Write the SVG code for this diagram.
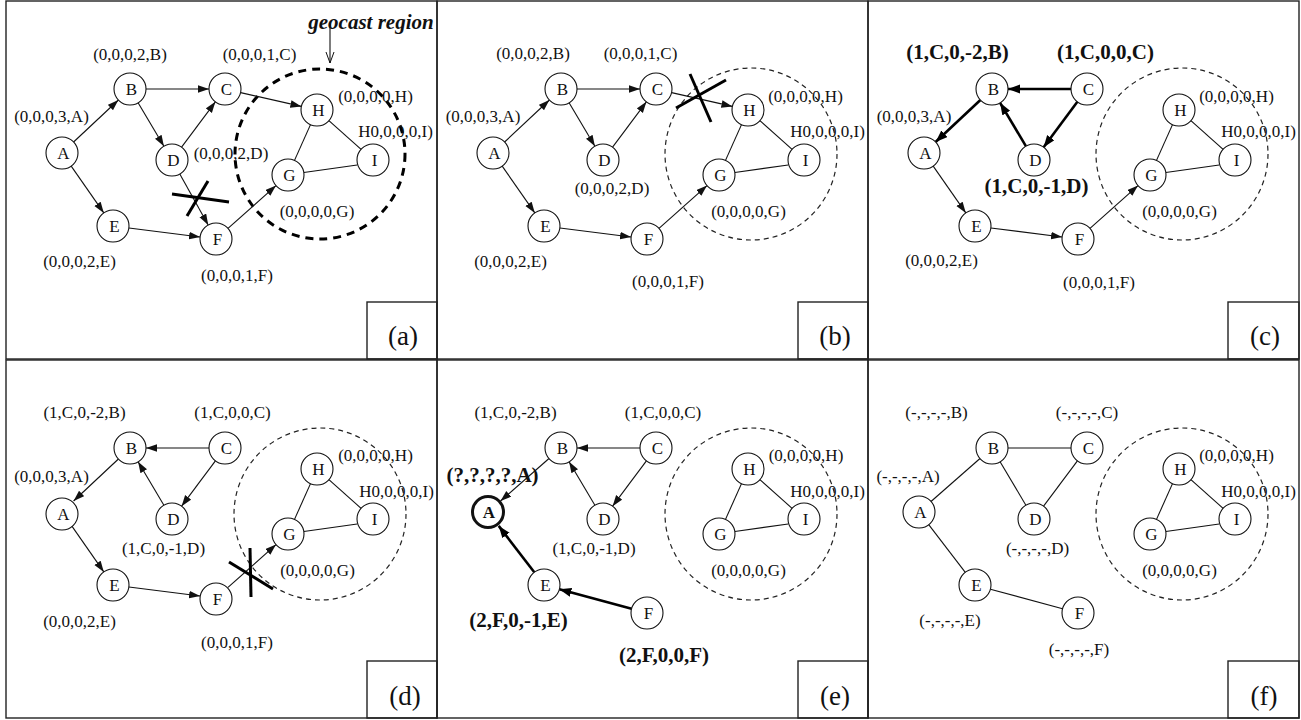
<svg xmlns="http://www.w3.org/2000/svg" width="1301" height="720" viewBox="0 0 1301 720">
<style>
.bg{fill:#fff}
.frame{fill:none;stroke:#222;stroke-width:1.4}
.n circle{fill:#fff;stroke:#111;stroke-width:1.1}
.n text,.lbl{font-family:"Liberation Serif","Times New Roman",serif;font-size:17px;fill:#111;text-anchor:middle}
.bold{font-weight:bold;font-size:21px}
.plabel{font-family:"Liberation Serif","Times New Roman",serif;font-size:27px;fill:#111;text-anchor:middle}
.e{stroke:#111;stroke-width:1.1;fill:none}
.ea{stroke:#111;stroke-width:1.1;fill:none;marker-end:url(#ar)}
.et{stroke:#000;stroke-width:2.6;fill:none;marker-end:url(#arT)}
.x{stroke:#000;stroke-width:3;fill:none}
.geo{fill:none;stroke:#222;stroke-width:1.2;stroke-dasharray:5 4}
.geoT{fill:none;stroke:#000;stroke-width:3;stroke-dasharray:8 6}
</style>
<defs>
<marker id="ar" markerUnits="userSpaceOnUse" markerWidth="12" markerHeight="9" refX="11" refY="3.8" orient="auto"><path d="M0,0 L11,3.8 L0,7.6 z" fill="#111"/></marker>
<marker id="arT" markerUnits="userSpaceOnUse" markerWidth="14" markerHeight="10" refX="12" refY="4.5" orient="auto"><path d="M0,0 L12,4.5 L0,9 z" fill="#000"/></marker>
<marker id="arO" markerUnits="userSpaceOnUse" markerWidth="14" markerHeight="12" refX="12" refY="5" orient="auto"><path d="M1,1 L12,5 L1,9" fill="none" stroke="#111" stroke-width="1"/></marker>
</defs>
<rect class="bg" x="0" y="0" width="1301" height="720"/>

<!-- ===== Panel (a) ===== -->
<g id="panel-a">
<rect class="frame" x="6" y="1" width="431" height="358"/>
<rect class="frame" x="367" y="302" width="70" height="57"/>
<text class="plabel" x="403" y="345">(a)</text>
<circle class="geoT" cx="320" cy="154" r="85"/>
<g id="a-connectors">
<line class="ea" x1="73.6" y1="142" x2="118.4" y2="100"/>
<line class="ea" x1="71.2" y1="166.1" x2="103.8" y2="212.9"/>
<line class="ea" x1="146" y1="89" x2="209" y2="89"/>
<line class="ea" x1="138.1" y1="102.8" x2="163.9" y2="146.2"/>
<line class="ea" x1="181.6" y1="147.2" x2="215.4" y2="101.8"/>
<line class="ea" x1="179.8" y1="174" x2="208.2" y2="225"/>
<line class="ea" x1="128.9" y1="228" x2="200.1" y2="237"/>
<line class="ea" x1="240.6" y1="92.6" x2="301.4" y2="106.4"/>
<line class="ea" x1="228" y1="228.4" x2="276" y2="185.6"/>
<line class="e" x1="294.5" y1="160.4" x2="310.5" y2="124.6"/>
<line class="e" x1="328.9" y1="120.7" x2="361.1" y2="149.3"/>
<line class="e" x1="303.8" y1="172.5" x2="357.2" y2="165"/>
<line class="x" x1="172" y1="194" x2="229" y2="202"/>
<line class="x" x1="208" y1="181" x2="187" y2="216"/>
<line class="e" x1="330" y1="24" x2="330" y2="63" marker-end="url(#arO)"/>
</g>
<g id="a-A" class="n"><circle cx="62" cy="153" r="16"/><text x="63.5" y="159">A</text></g>
<g id="a-B" class="n"><circle cx="130" cy="89" r="16"/><text x="131.5" y="95">B</text></g>
<g id="a-C" class="n"><circle cx="225" cy="89" r="16"/><text x="226.5" y="95">C</text></g>
<g id="a-D" class="n"><circle cx="172" cy="160" r="16"/><text x="173.5" y="166">D</text></g>
<g id="a-E" class="n"><circle cx="113" cy="226" r="16"/><text x="114.5" y="232">E</text></g>
<g id="a-F" class="n"><circle cx="216" cy="239" r="16"/><text x="217.5" y="245">F</text></g>
<g id="a-G" class="n"><circle cx="288" cy="175" r="16"/><text x="289.5" y="181">G</text></g>
<g id="a-H" class="n"><circle cx="317" cy="110" r="16"/><text x="318.5" y="116">H</text></g>
<g id="a-I" class="n"><circle cx="373" cy="160" r="16"/><text x="374.5" y="166">I</text></g>
<text class="lbl" x="130" y="60">(0,0,0,2,B)</text>
<text class="lbl" x="259.5" y="60">(0,0,0,1,C)</text>
<text class="lbl" x="51.5" y="122">(0,0,0,3,A)</text>
<text class="lbl" x="231" y="159">(0,0,0,2,D)</text>
<text class="lbl" x="375.5" y="102">(0,0,0,0,H)</text>
<text class="lbl" x="395.5" y="137">H0,0,0,0,I)</text>
<text class="lbl" x="317" y="217">(0,0,0,0,G)</text>
<text class="lbl" x="79.5" y="267">(0,0,0,2,E)</text>
<text class="lbl" x="237" y="281">(0,0,0,1,F)</text>
<text x="371" y="29" style="font-family:'Liberation Serif','Times New Roman',serif;font-size:21px;font-weight:bold;font-style:italic;fill:#111;text-anchor:middle">geocast region</text>
</g>

<!-- ===== Panel (b) ===== -->
<g id="panel-b" transform="translate(431,0)">
<rect class="frame" x="6" y="1" width="431" height="358"/>
<rect class="frame" x="367" y="302" width="70" height="57"/>
<text class="plabel" x="404" y="345">(b)</text>
<circle class="geo" cx="320" cy="154" r="86"/>
<g id="b-connectors">
<line class="ea" x1="73.6" y1="142" x2="118.4" y2="100"/>
<line class="ea" x1="71.2" y1="166.1" x2="103.8" y2="212.9"/>
<line class="ea" x1="146" y1="89" x2="209" y2="89"/>
<line class="ea" x1="138.1" y1="102.8" x2="163.9" y2="146.2"/>
<line class="ea" x1="181.6" y1="147.2" x2="215.4" y2="101.8"/>
<line class="ea" x1="128.9" y1="228" x2="200.1" y2="237"/>
<line class="ea" x1="240.6" y1="92.6" x2="301.4" y2="106.4"/>
<line class="ea" x1="228" y1="228.4" x2="276" y2="185.6"/>
<line class="e" x1="294.5" y1="160.4" x2="310.5" y2="124.6"/>
<line class="e" x1="328.9" y1="120.7" x2="361.1" y2="149.3"/>
<line class="e" x1="303.8" y1="172.5" x2="357.2" y2="165"/>
<line class="x" x1="259" y1="74" x2="280" y2="122"/>
<line class="x" x1="245" y1="108" x2="295" y2="80"/>
</g>
<g id="b-A" class="n"><circle cx="62" cy="153" r="16"/><text x="63.5" y="159">A</text></g>
<g id="b-B" class="n"><circle cx="130" cy="89" r="16"/><text x="131.5" y="95">B</text></g>
<g id="b-C" class="n"><circle cx="225" cy="89" r="16"/><text x="226.5" y="95">C</text></g>
<g id="b-D" class="n"><circle cx="172" cy="160" r="16"/><text x="173.5" y="166">D</text></g>
<g id="b-E" class="n"><circle cx="113" cy="226" r="16"/><text x="114.5" y="232">E</text></g>
<g id="b-F" class="n"><circle cx="216" cy="239" r="16"/><text x="217.5" y="245">F</text></g>
<g id="b-G" class="n"><circle cx="288" cy="175" r="16"/><text x="289.5" y="181">G</text></g>
<g id="b-H" class="n"><circle cx="317" cy="110" r="16"/><text x="318.5" y="116">H</text></g>
<g id="b-I" class="n"><circle cx="373" cy="160" r="16"/><text x="374.5" y="166">I</text></g>
<text class="lbl" x="102" y="59">(0,0,0,2,B)</text>
<text class="lbl" x="209.5" y="59">(0,0,0,1,C)</text>
<text class="lbl" x="52" y="122">(0,0,0,3,A)</text>
<text class="lbl" x="181" y="194">(0,0,0,2,D)</text>
<text class="lbl" x="374.5" y="102">(0,0,0,0,H)</text>
<text class="lbl" x="396.5" y="137">H0,0,0,0,I)</text>
<text class="lbl" x="317.5" y="217">(0,0,0,0,G)</text>
<text class="lbl" x="79.5" y="267">(0,0,0,2,E)</text>
<text class="lbl" x="237" y="287">(0,0,0,1,F)</text>
</g>

<!-- ===== Panel (c) ===== -->
<g id="panel-c" transform="translate(862,0)">
<rect class="frame" x="6" y="1" width="431" height="358"/>
<rect class="frame" x="366" y="302" width="71" height="57"/>
<text class="plabel" x="403" y="345">(c)</text>
<circle class="geo" cx="320" cy="154" r="86"/>
<g id="c-connectors">
<line class="et" x1="209" y1="89" x2="146" y2="89"/>
<line class="et" x1="118.4" y1="100" x2="73.6" y2="142"/>
<line class="et" x1="215.4" y1="101.8" x2="181.6" y2="147.2"/>
<line class="et" x1="163.9" y1="146.2" x2="138.1" y2="102.8"/>
<line class="ea" x1="71.2" y1="166.1" x2="103.8" y2="212.9"/>
<line class="ea" x1="128.9" y1="228" x2="200.1" y2="237"/>
<line class="ea" x1="228" y1="228.4" x2="276" y2="185.6"/>
<line class="e" x1="294.5" y1="160.4" x2="310.5" y2="124.6"/>
<line class="e" x1="328.9" y1="120.7" x2="361.1" y2="149.3"/>
<line class="e" x1="303.8" y1="172.5" x2="357.2" y2="165"/>
</g>
<g id="c-A" class="n"><circle cx="62" cy="153" r="16"/><text x="63.5" y="159">A</text></g>
<g id="c-B" class="n"><circle cx="130" cy="89" r="16"/><text x="131.5" y="95">B</text></g>
<g id="c-C" class="n"><circle cx="225" cy="89" r="16"/><text x="226.5" y="95">C</text></g>
<g id="c-D" class="n"><circle cx="172" cy="160" r="16"/><text x="173.5" y="166">D</text></g>
<g id="c-E" class="n"><circle cx="113" cy="226" r="16"/><text x="114.5" y="232">E</text></g>
<g id="c-F" class="n"><circle cx="216" cy="239" r="16"/><text x="217.5" y="245">F</text></g>
<g id="c-G" class="n"><circle cx="288" cy="175" r="16"/><text x="289.5" y="181">G</text></g>
<g id="c-H" class="n"><circle cx="317" cy="110" r="16"/><text x="318.5" y="116">H</text></g>
<g id="c-I" class="n"><circle cx="373" cy="160" r="16"/><text x="374.5" y="166">I</text></g>
<text class="lbl bold" x="95.5" y="59">(1,C,0,-2,B)</text>
<text class="lbl bold" x="243.5" y="59">(1,C,0,0,C)</text>
<text class="lbl" x="52" y="122">(0,0,0,3,A)</text>
<text class="lbl bold" x="174.5" y="193">(1,C,0,-1,D)</text>
<text class="lbl" x="374.5" y="102">(0,0,0,0,H)</text>
<text class="lbl" x="396.5" y="137">H0,0,0,0,I)</text>
<text class="lbl" x="317.5" y="217">(0,0,0,0,G)</text>
<text class="lbl" x="79.5" y="266">(0,0,0,2,E)</text>
<text class="lbl" x="237" y="288">(0,0,0,1,F)</text>
</g>

<!-- ===== Panel (d) ===== -->
<g id="panel-d" transform="translate(0,359)">
<rect class="frame" x="6" y="1" width="431" height="358"/>
<rect class="frame" x="367" y="302" width="70" height="57"/>
<text class="plabel" x="405" y="346">(d)</text>
<circle class="geo" cx="320" cy="155" r="86"/>
<g id="d-connectors">
<line class="ea" x1="209" y1="89" x2="146" y2="89"/>
<line class="ea" x1="118.4" y1="100" x2="73.6" y2="142"/>
<line class="ea" x1="215.4" y1="101.8" x2="181.6" y2="147.2"/>
<line class="ea" x1="163.9" y1="146.2" x2="138.1" y2="102.8"/>
<line class="ea" x1="71.2" y1="166.1" x2="103.8" y2="212.9"/>
<line class="ea" x1="128.9" y1="228" x2="200.1" y2="237"/>
<line class="ea" x1="228" y1="228.4" x2="276" y2="185.6"/>
<line class="e" x1="294.5" y1="160.4" x2="310.5" y2="124.6"/>
<line class="e" x1="328.9" y1="120.7" x2="361.1" y2="149.3"/>
<line class="e" x1="303.8" y1="172.5" x2="357.2" y2="165"/>
<line class="x" x1="250" y1="189" x2="251" y2="238"/>
<line class="x" x1="229" y1="203" x2="273" y2="230"/>
</g>
<g id="d-A" class="n"><circle cx="62" cy="155" r="16"/><text x="63.5" y="161">A</text></g>
<g id="d-B" class="n"><circle cx="130" cy="89" r="16"/><text x="131.5" y="95">B</text></g>
<g id="d-C" class="n"><circle cx="225" cy="89" r="16"/><text x="226.5" y="95">C</text></g>
<g id="d-D" class="n"><circle cx="172" cy="160" r="16"/><text x="173.5" y="166">D</text></g>
<g id="d-E" class="n"><circle cx="113" cy="226" r="16"/><text x="114.5" y="232">E</text></g>
<g id="d-F" class="n"><circle cx="216" cy="240" r="16"/><text x="217.5" y="246">F</text></g>
<g id="d-G" class="n"><circle cx="288" cy="175" r="16"/><text x="289.5" y="181">G</text></g>
<g id="d-H" class="n"><circle cx="317" cy="110" r="16"/><text x="318.5" y="116">H</text></g>
<g id="d-I" class="n"><circle cx="373" cy="160" r="16"/><text x="374.5" y="166">I</text></g>
<text class="lbl" x="84.5" y="59">(1,C,0,-2,B)</text>
<text class="lbl" x="232.5" y="59">(1,C,0,0,C)</text>
<text class="lbl" x="51.5" y="122.5">(0,0,0,3,A)</text>
<text class="lbl" x="163.5" y="195">(1,C,0,-1,D)</text>
<text class="lbl" x="375.5" y="102">(0,0,0,0,H)</text>
<text class="lbl" x="396.5" y="137.5">H0,0,0,0,I)</text>
<text class="lbl" x="317.5" y="217">(0,0,0,0,G)</text>
<text class="lbl" x="79.5" y="267.5">(0,0,0,2,E)</text>
<text class="lbl" x="237" y="289">(0,0,0,1,F)</text>
</g>

<!-- ===== Panel (e) ===== -->
<g id="panel-e" transform="translate(431,359)">
<rect class="frame" x="6" y="1" width="431" height="358"/>
<rect class="frame" x="367" y="302" width="70" height="57"/>
<text class="plabel" x="404" y="346">(e)</text>
<circle class="geo" cx="320" cy="155" r="86"/>
<g id="e-connectors">
<line class="ea" x1="209" y1="89" x2="146" y2="89"/>
<line class="ea" x1="118" y1="99.5" x2="69.5" y2="142"/>
<line class="ea" x1="215.4" y1="101.8" x2="181.6" y2="147.2"/>
<line class="ea" x1="163.9" y1="146.2" x2="138.1" y2="102.8"/>
<line class="et" x1="103.3" y1="213.3" x2="67.7" y2="166.9"/>
<line class="et" x1="200.6" y1="249.8" x2="128.4" y2="230.2"/>
<line class="e" x1="294.5" y1="160.4" x2="310.5" y2="124.6"/>
<line class="e" x1="328.9" y1="120.7" x2="361.1" y2="149.3"/>
<line class="e" x1="303.8" y1="172.5" x2="357.2" y2="165"/>
</g>
<g id="e-A" class="n"><circle cx="57" cy="153" r="15.5" style="stroke-width:3"/><text x="58" y="159" style="font-weight:bold">A</text></g>
<g id="e-B" class="n"><circle cx="130" cy="89" r="16"/><text x="131.5" y="95">B</text></g>
<g id="e-C" class="n"><circle cx="225" cy="89" r="16"/><text x="226.5" y="95">C</text></g>
<g id="e-D" class="n"><circle cx="172" cy="160" r="16"/><text x="173.5" y="166">D</text></g>
<g id="e-E" class="n"><circle cx="113" cy="226" r="16"/><text x="114.5" y="232">E</text></g>
<g id="e-F" class="n"><circle cx="216" cy="254" r="16"/><text x="217.5" y="260">F</text></g>
<g id="e-G" class="n"><circle cx="288" cy="175" r="16"/><text x="289.5" y="181">G</text></g>
<g id="e-H" class="n"><circle cx="317" cy="110" r="16"/><text x="318.5" y="116">H</text></g>
<g id="e-I" class="n"><circle cx="373" cy="160" r="16"/><text x="374.5" y="166">I</text></g>
<text class="lbl" x="84.5" y="59">(1,C,0,-2,B)</text>
<text class="lbl" x="232" y="59">(1,C,0,0,C)</text>
<text class="lbl bold" x="61.5" y="122.5">(?,?,?,?,A)</text>
<text class="lbl" x="163" y="195">(1,C,0,-1,D)</text>
<text class="lbl" x="375" y="102">(0,0,0,0,H)</text>
<text class="lbl" x="396.5" y="137.5">H0,0,0,0,I)</text>
<text class="lbl" x="317.5" y="217">(0,0,0,0,G)</text>
<text class="lbl bold" x="87.5" y="267.5">(2,F,0,-1,E)</text>
<text class="lbl bold" x="233" y="303">(2,F,0,0,F)</text>
</g>

<!-- ===== Panel (f) ===== -->
<g id="panel-f" transform="translate(862,359)">
<rect class="frame" x="6" y="1" width="431" height="358"/>
<rect class="frame" x="366" y="302" width="71" height="57"/>
<text class="plabel" x="402" y="346">(f)</text>
<circle class="geo" cx="320" cy="155" r="86"/>
<g id="f-connectors">
<line class="e" x1="69" y1="142.5" x2="118" y2="99.5"/>
<line class="e" x1="66.7" y1="165.7" x2="103.3" y2="213.3"/>
<line class="e" x1="146" y1="89" x2="209" y2="89"/>
<line class="e" x1="138.1" y1="102.8" x2="163.9" y2="146.2"/>
<line class="e" x1="215.4" y1="101.8" x2="181.6" y2="147.2"/>
<line class="e" x1="128.4" y1="230.2" x2="200.6" y2="249.8"/>
<line class="e" x1="294.5" y1="160.4" x2="310.5" y2="124.6"/>
<line class="e" x1="328.9" y1="120.7" x2="361.1" y2="149.3"/>
<line class="e" x1="303.8" y1="172.5" x2="357.2" y2="165"/>
</g>
<g id="f-A" class="n"><circle cx="57" cy="153" r="16"/><text x="58.5" y="159">A</text></g>
<g id="f-B" class="n"><circle cx="130" cy="89" r="16"/><text x="131.5" y="95">B</text></g>
<g id="f-C" class="n"><circle cx="225" cy="89" r="16"/><text x="226.5" y="95">C</text></g>
<g id="f-D" class="n"><circle cx="172" cy="160" r="16"/><text x="173.5" y="166">D</text></g>
<g id="f-E" class="n"><circle cx="113" cy="226" r="16"/><text x="114.5" y="232">E</text></g>
<g id="f-F" class="n"><circle cx="216" cy="254" r="16"/><text x="217.5" y="260">F</text></g>
<g id="f-G" class="n"><circle cx="288" cy="175" r="16"/><text x="289.5" y="181">G</text></g>
<g id="f-H" class="n"><circle cx="317" cy="110" r="16"/><text x="318.5" y="116">H</text></g>
<g id="f-I" class="n"><circle cx="373" cy="160" r="16"/><text x="374.5" y="166">I</text></g>
<text class="lbl" x="74.5" y="59">(-,-,-,-,B)</text>
<text class="lbl" x="225" y="59">(-,-,-,-,C)</text>
<text class="lbl" x="46" y="122.5">(-,-,-,-,A)</text>
<text class="lbl" x="175.5" y="195">(-,-,-,-,D)</text>
<text class="lbl" x="374.5" y="102">(0,0,0,0,H)</text>
<text class="lbl" x="396.5" y="137.5">H0,0,0,0,I)</text>
<text class="lbl" x="317.5" y="217">(0,0,0,0,G)</text>
<text class="lbl" x="88" y="266.5">(-,-,-,-,E)</text>
<text class="lbl" x="217" y="296">(-,-,-,-,F)</text>
</g>
</svg>
